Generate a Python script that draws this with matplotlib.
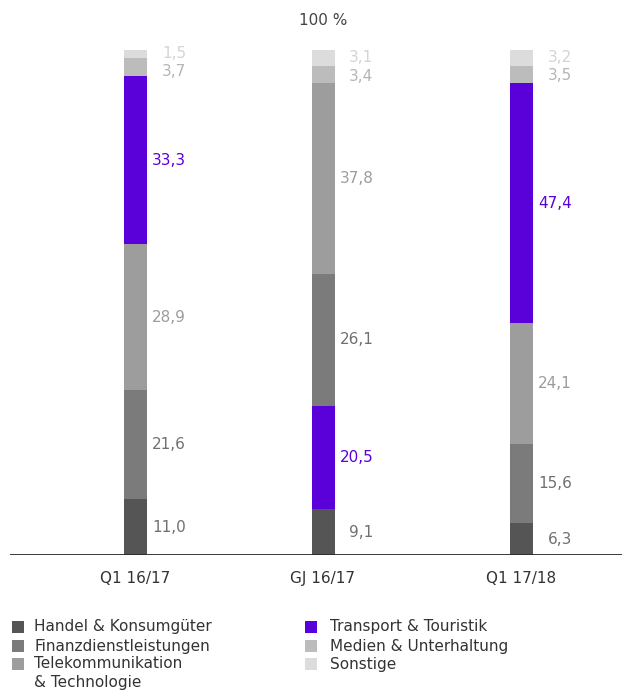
import matplotlib
matplotlib.use("Agg")
import matplotlib.pyplot as plt
from matplotlib.patches import Rectangle

plt.rcParams['font.family'] = ['DejaVu Sans']

categories = ["Q1 16/17", "GJ 16/17", "Q1 17/18"]

handel = [11.0, 9.1, 6.3]
finanz = [21.6, 26.1, 15.6]
telekom = [28.9, 37.8, 24.1]
transport = [33.3, 20.5, 47.4]
medien = [3.7, 3.4, 3.5]
sonstige = [1.5, 3.1, 3.2]

legend_labels = ["Handel & Konsumgüter", "Finanzdienstleistungen",
                 "Telekommunikation\n& Technologie",
                 "Transport & Touristik", "Medien & Unterhaltung", "Sonstige"]

# stacking order (bottom to top) for each bar
stack_order = [
    ["handel", "finanz", "telekom", "transport", "medien", "sonstige"],
    ["handel", "transport", "finanz", "telekom", "medien", "sonstige"],
    ["handel", "finanz", "telekom", "transport", "medien", "sonstige"],
]

series = {"handel": handel, "finanz": finanz, "telekom": telekom,
          "transport": transport, "medien": medien, "sonstige": sonstige}
fill = {"handel": "#555555", "finanz": "#7b7b7b", "telekom": "#9d9d9d",
        "transport": "#5a00d9", "medien": "#bcbcbc", "sonstige": "#dcdcdc"}
label_color = {"handel": "#707070", "finanz": "#707070", "telekom": "#9c9c9c",
               "transport": "#5a00d9", "medien": "#b5b5b5", "sonstige": "#d4d4d4"}

W, H = 622, 692
fig = plt.figure(figsize=(W / 100, H / 100), dpi=100)

# axes in pixel layout: x from 10 to 622, baseline at y=555, 100 % at y=50
ax_left, ax_right, base_y, top_y = 10, 622, 555, 50
ax = fig.add_axes([ax_left / W, (H - base_y) / H, (ax_right - ax_left) / W,
                   (base_y - top_y) / H])
ax.set_xlim(ax_left, ax_right)
ax.set_ylim(0, 100)
ax.axis("off")

x_pos = [135.5, 323, 521.5]
bar_w = 23
label_dx = bar_w / 2 + 39
fs = 11

for i, order in enumerate(stack_order):
    bottom = 0.0
    centers = []
    for key in order:
        v = series[key][i]
        ax.bar(x_pos[i], v, width=bar_w, bottom=bottom, color=fill[key],
               linewidth=0)
        centers.append([bottom + v / 2, key, v])
        bottom += v
    # keep the small top labels from overlapping
    min_gap = 3.6
    for j in range(len(centers) - 2, -1, -1):
        if centers[j + 1][0] - centers[j][0] < min_gap:
            centers[j][0] = centers[j + 1][0] - min_gap
    for yc, key, v in centers:
        ax.text(x_pos[i] + label_dx, yc, f"{v:.1f}".replace(".", ","),
                ha="right", va="center", fontsize=fs, color=label_color[key])
    ax.text(x_pos[i], -4.6, categories[i], ha="center", va="center",
            fontsize=fs, color="#333333", clip_on=False)

ax.axhline(0, color="#2b2b2b", lw=1.3, xmin=0, xmax=1)
ax.text(x_pos[1], 105.8, "100 %", ha="center", va="center", fontsize=fs,
        color="#444444", clip_on=False)

# legend
keys = ["handel", "finanz", "telekom", "transport", "medien", "sonstige"]
rows_y = [627, 646, 664]
line_h = 19
for k, key in enumerate(keys):
    col, row = divmod(k, 3)
    sx = 12 if col == 0 else 305
    tx = 34 if col == 0 else 330
    y = rows_y[row]
    fig.patches.append(Rectangle((sx / W, (H - y - 6) / H), 12 / W, 12 / H,
                                 transform=fig.transFigure,
                                 facecolor=fill[key], edgecolor="none"))
    for n, line in enumerate(legend_labels[k].split("\n")):
        fig.text(tx / W, (H - y - n * line_h) / H, line, ha="left",
                 va="center", fontsize=fs, color="#333333")

fig.savefig("out.png", dpi=100)
